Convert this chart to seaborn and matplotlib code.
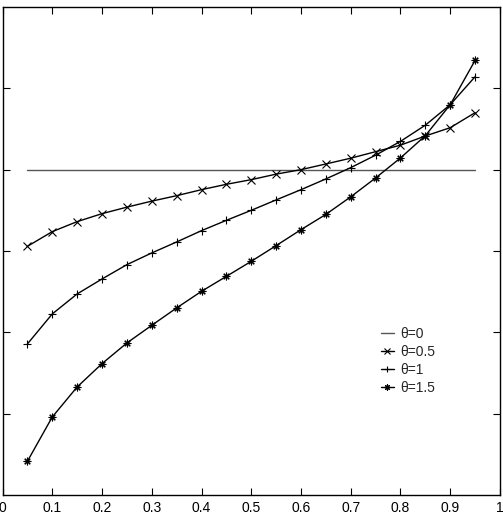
import numpy as np
import pandas as pd
import matplotlib
matplotlib.use("Agg")
import matplotlib.pyplot as plt
import seaborn as sns

x_vals = [0.05, 0.10, 0.15, 0.20, 0.25, 0.30, 0.35, 0.40, 0.45, 0.50,
          0.55, 0.60, 0.65, 0.70, 0.75, 0.80, 0.85, 0.90, 0.95]
theta0 = [0.0] * 19
theta05 = [-0.943, -0.762, -0.639, -0.541, -0.461, -0.387, -0.320, -0.246, -0.180, -0.123,
           -0.055, 0.000, 0.070, 0.141, 0.221, 0.301, 0.414, 0.516, 0.701]
theta1 = [-2.143, -1.774, -1.528, -1.344, -1.168, -1.024, -0.889, -0.750, -0.623, -0.500,
          -0.372, -0.246, -0.114, 0.025, 0.178, 0.348, 0.547, 0.799, 1.143]
theta15 = [-3.586, -3.041, -2.672, -2.385, -2.131, -1.914, -1.700, -1.496, -1.312, -1.127,
           -0.934, -0.738, -0.550, -0.334, -0.102, 0.144, 0.418, 0.799, 1.344]
labels = ["θ=0", "θ=0.5", "θ=1", "θ=1.5"]
x_ticks = [0, 0.1, 0.2, 0.3, 0.4, 0.5, 0.6, 0.7, 0.8, 0.9, 1]
x_tick_labels = ["0", "0.1", "0.2", "0.3", "0.4", "0.5", "0.6", "0.7", "0.8", "0.9", "1"]
y_ticks = [-3, -2, -1, 0, 1]

sns.set_style("white")
plt.rcParams['font.family'] = ['Liberation Sans', 'DejaVu Sans']

fig = plt.figure(figsize=(5.03, 5.21), dpi=100)
ax = fig.add_axes([0.005, 0.0499, 0.989, 0.9367])

series = [theta0, theta05, theta1, theta15]
markers = [None, 'x', '+', (8, 2, 0)]
colors = ['#555555', 'black', 'black', 'black']
for vals, lab, mk, col in zip(series, labels, markers, colors):
    df = pd.DataFrame({"x": x_vals, "y": vals})
    kw = dict(marker=mk, markersize=5.5, markeredgewidth=0.8,
              markeredgecolor=col, markerfacecolor=col) if mk is not None else {}
    sns.lineplot(data=df, x="x", y="y", ax=ax, color=col, linewidth=1.0,
                 label=lab, **kw)

ax.set_xlim(0, 1)
ax.set_ylim(-4, 2)
ax.set_xticks(x_ticks)
ax.set_xticklabels(x_tick_labels, fontsize=10)
ax.set_yticks(y_ticks)
ax.set_yticklabels([])
ax.set_xlabel("")
ax.set_ylabel("")
ax.tick_params(direction='in', length=5, width=0.8, top=True, right=True,
               bottom=True, left=True, pad=4, colors='black')
for s in ax.spines.values():
    s.set_color('black')
    s.set_linewidth(1.0)

leg = ax.legend(loc='upper left', bbox_to_anchor=(0.75, 0.356), frameon=False,
                fontsize=10, handlelength=0.9, handletextpad=0.45,
                labelspacing=0.3, borderaxespad=0, markerscale=0.8)
fig.savefig("out.png", dpi=100)
